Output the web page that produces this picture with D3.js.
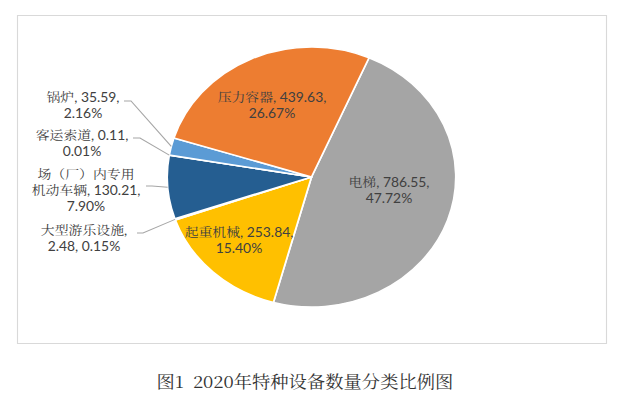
<!DOCTYPE html>
<html>
<head>
<meta charset="utf-8">
<script src="https://cdn.jsdelivr.net/npm/d3@7"></script>
<style>
  body { margin: 0; background: #fff; }
  text { font-family: "Lato", "Noto Serif CJK SC", "Noto Sans CJK SC", sans-serif; fill: #404040; }
</style>
</head>
<body>
<svg width="634" height="394"></svg>
<script>
// Data (clockwise from the first slice)
const categories = ["电梯", "起重机械", "大型游乐设施", "场（厂）内专用机动车辆", "客运索道", "锅炉", "压力容器"];
const values = [786.55, 253.84, 2.48, 130.21, 0.11, 35.59, 439.63];
const percents = ["47.72%", "15.40%", "0.15%", "7.90%", "0.01%", "2.16%", "26.67%"];
const colors = ["#A5A5A5", "#FFC000", "#70AD47", "#255E91", "#9E480E", "#5B9BD5", "#ED7D31"];

// label text broken into lines, same order as categories
const labelLines = [
  [`${categories[0]}, ${values[0]},`, percents[0]],
  [`${categories[1]}, ${values[1]},`, percents[1]],
  [`${categories[2]},`, `${values[2]}, ${percents[2]}`],
  ["场（厂）内专用", `机动车辆, ${values[3]},`, percents[3]],
  [`${categories[4]}, ${values[4]},`, percents[4]],
  [`${categories[5]}, ${values[5]},`, percents[5]],
  [`${categories[6]}, ${values[6]},`, percents[6]]
];

const svg = d3.select("svg");
const sx = 1.11;          // picture is stretched horizontally
const g = svg.append("g").attr("transform", `scale(${sx},1)`);

// frame
g.append("rect")
    .attr("x", 17.5 / sx).attr("y", 15.5)
    .attr("width", 589 / sx).attr("height", 328)
    .attr("fill", "none")
    .attr("stroke", "#D9D9D9")
    .attr("stroke-width", 1);

const cx = 311.5 / sx, cy = 177, r = 130;

const pie = d3.pie()
    .sort(null)
    .value(d => d)
    .startAngle(23.5 * Math.PI / 180)
    .endAngle(23.5 * Math.PI / 180 + 2 * Math.PI);

const arcs = pie(values);
const arc = d3.arc().innerRadius(0).outerRadius(r);

const pg = g.append("g").attr("transform", `translate(${cx},${cy})`);

pg.selectAll("path")
  .data(arcs)
  .join("path")
    .attr("d", arc)
    .attr("fill", (d, i) => colors[i])
    .attr("stroke", "#fff")
    .attr("stroke-width", 1.6)
    .attr("stroke-linejoin", "round");

// inside labels
const inside = {0: [389, 183], 1: [239, 233], 6: [272, 98]};
// outside labels: [centre x, first baseline y] and leader start / elbow
const outside = {
  5: {pos: [83, 98], line: [[124, 101], [131, 101]]},
  4: {pos: [82, 136], line: [[133, 138], [140, 138]]},
  3: {pos: [86, 175], line: [[146, 186], [152, 186]]},
  2: {pos: [84, 231], line: [[137, 233], [143, 233]]}
};

const lineH = 16;

function drawLabel(i, x, y) {
  const t = g.append("text")
      .attr("x", x / sx)
      .attr("y", y + 4)
      .attr("text-anchor", "middle")
      .style("font-size", "12.5px");
  labelLines[i].forEach((s, k) => {
    t.append("tspan")
        .attr("x", x / sx)
        .attr("dy", k === 0 ? 0 : lineH)
        .text(s);
  });
}

Object.keys(inside).forEach(k => drawLabel(+k, inside[k][0], inside[k][1]));

Object.keys(outside).forEach(k => {
  const o = outside[k];
  drawLabel(+k, o.pos[0], o.pos[1]);
  const a = (arcs[k].startAngle + arcs[k].endAngle) / 2;
  const ex = cx + Math.sin(a) * r, ey = cy - Math.cos(a) * r;
  const pts = o.line.map(p => [p[0] / sx, p[1]]).concat([[ex, ey]]);
  g.append("path")
      .attr("d", d3.line()(pts))
      .attr("fill", "none")
      .attr("stroke", "#A6A6A6")
      .attr("stroke-width", 1);
});

// caption
g.append("text")
    .attr("x", 305 / sx)
    .attr("y", 388)
    .attr("text-anchor", "middle")
    .style("font-size", "16.5px")
    .style("font-family", "'Noto Serif CJK SC', 'Liberation Serif', 'Noto Sans CJK SC', serif")
    .style("fill", "#333")
    .text("图1\u00a0\u00a02020年特种设备数量分类比例图");
</script>
</body>
</html>
